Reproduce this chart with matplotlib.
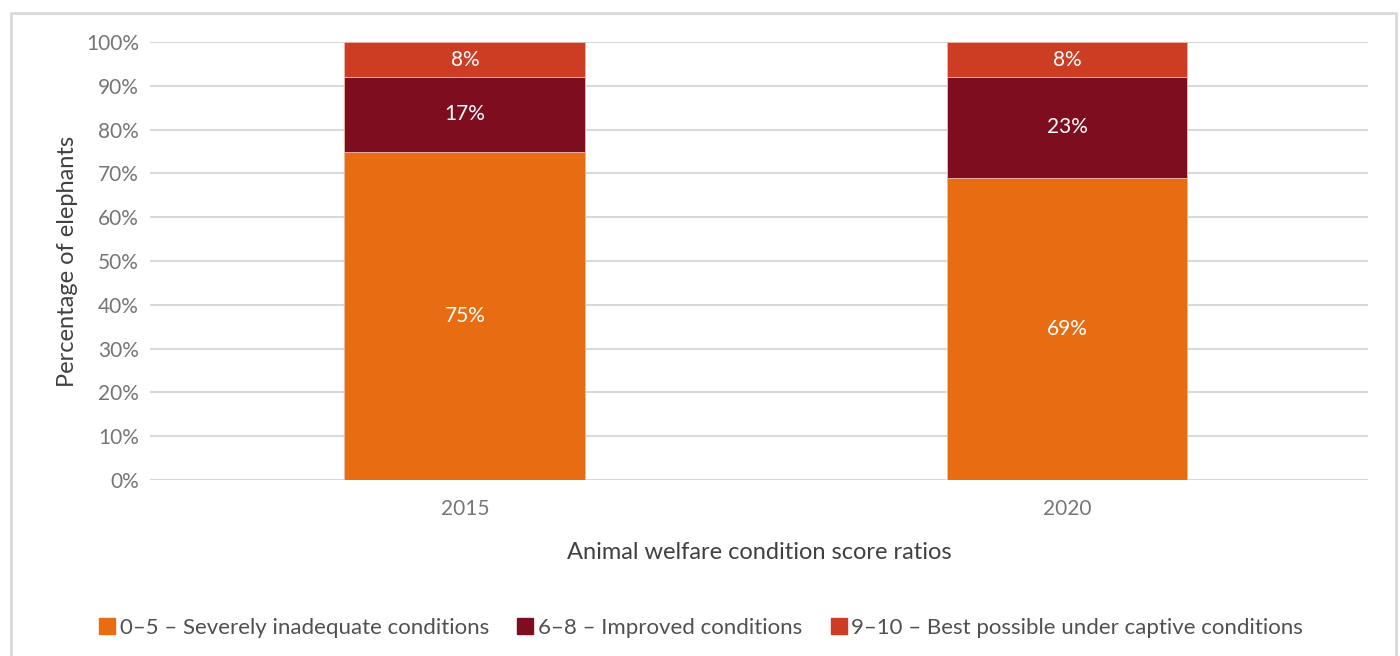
import matplotlib.pyplot as plt
from matplotlib.patches import Rectangle
from matplotlib.lines import Line2D

# data
years = ["2015", "2020"]
severe = [75, 69]
improved = [17, 23]
best = [8, 8]
series_names = ["0\u20135 \u2013 Severely inadequate conditions",
                "6\u20138 \u2013 Improved conditions",
                "9\u201310 \u2013 Best possible under captive conditions"]
colors = ["#E86C12", "#7E0E1F", "#CC3D24"]

plt.rcParams['font.family'] = ['Lato', 'DejaVu Sans']

fig = plt.figure(figsize=(14, 6.56), dpi=100)
ax = fig.add_axes([150 / 1400, 1 - 480 / 656, (1368 - 150) / 1400, (480 - 42) / 656])

# light frame around the chart
fig.patches.append(Rectangle((11 / 1400, -0.05), (1396 - 11) / 1400, 1.05 - 13 / 656,
                             transform=fig.transFigure, fill=False,
                             edgecolor="#d9d9d9", linewidth=2))

x = list(range(len(years)))
w = 0.4
bottoms = [0, 0]
for vals, c in zip([severe, improved, best], colors):
    ax.bar(x, vals, w, bottom=bottoms, color=c, edgecolor="#f2b8a8",
           linewidth=0.6, zorder=3)
    for xi, v, b in zip(x, vals, bottoms):
        ax.text(xi, b + v / 2, f"{v}%", ha="center", va="center", color="white",
                fontsize=15, zorder=4)
    bottoms = [b + v for b, v in zip(bottoms, vals)]

ax.set_xlim(-0.523, 1.5)
ax.set_ylim(0, 100)
ax.set_yticks(range(0, 101, 10))
ax.set_yticklabels([f"{t}%" for t in range(0, 101, 10)])
ax.set_xticks(x)
ax.set_xticklabels(years)
ax.tick_params(length=0, labelsize=15, labelcolor="#767676", pad=8)
ax.tick_params(axis="x", pad=14)
ax.grid(axis="y", color="#d9d9d9", linewidth=1.5, zorder=0)
ax.set_axisbelow(True)
for s in ax.spines.values():
    s.set_visible(False)

ax.set_ylabel("Percentage of elephants", fontsize=17, color="#404040", labelpad=6)
ax.set_xlabel("Animal welfare condition score ratios", fontsize=17, color="#404040",
              labelpad=16)

handles = [Line2D([], [], marker="s", linestyle="none", markersize=12,
                  markerfacecolor=c, markeredgecolor=c) for c in colors]
fig.legend(handles, series_names, loc="center", bbox_to_anchor=(0.5, 1 - 628 / 656),
           ncol=3, frameon=False, fontsize=16, labelcolor="#505050",
           handletextpad=0.1, columnspacing=1.2, handlelength=0.9)

fig.savefig("out.png", dpi=100)
